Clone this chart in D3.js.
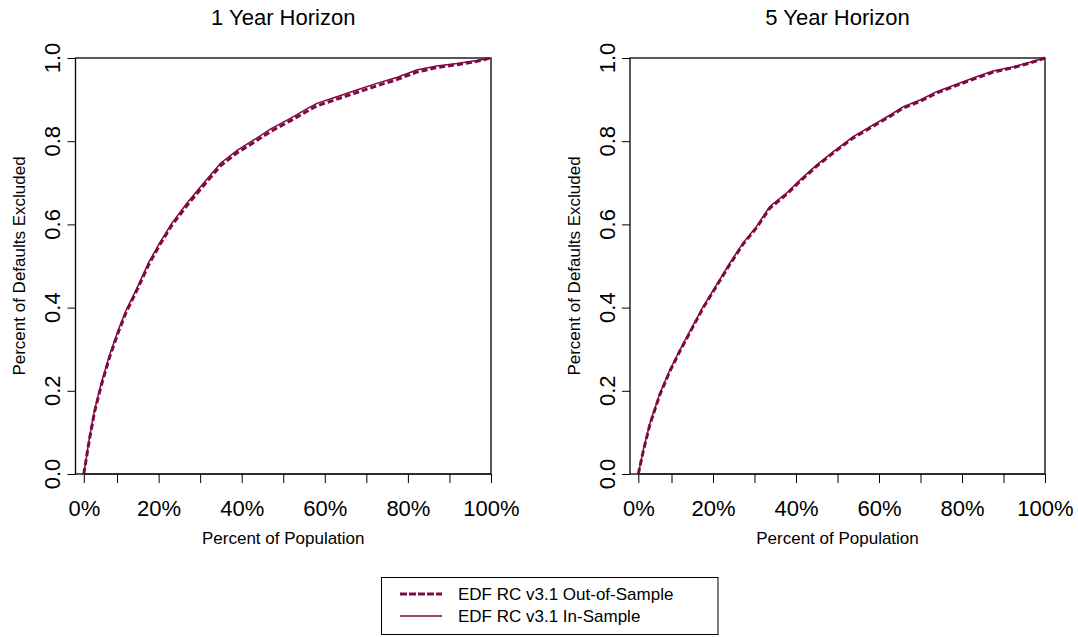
<!DOCTYPE html>
<html>
<head>
<meta charset="utf-8">
<script src="https://cdn.jsdelivr.net/npm/d3@7"></script>
<style>
  html, body { margin: 0; padding: 0; background: #fff; }
  svg { display: block; font-family: "Liberation Sans", Arial, Helvetica, sans-serif; }
</style>
</head>
<body>
<svg id="chart" width="1078" height="637"></svg>
<script>
// ---- data ----
const panelTitles = ["1 Year Horizon", "5 Year Horizon"];
const seriesNames = ["EDF RC v3.1 Out-of-Sample", "EDF RC v3.1 In-Sample"];
const xTickValues = [0.02, 0.1, 0.2, 0.3, 0.4, 0.5, 0.6, 0.7, 0.8, 0.9, 1.0];
const xTickLabels = ["0%", "", "20%", "", "40%", "", "60%", "", "80%", "", "100%"];
const yTickValues = [0, 0.2, 0.4, 0.6, 0.8, 1.0];
const yTickLabels = ["0.0", "0.2", "0.4", "0.6", "0.8", "1.0"];
const xLabel = "Percent of Population";
const yLabel = "Percent of Defaults Excluded";

// 1 year horizon
const oneYearIn = [
  [0.020,0.000],[0.034,0.090],[0.046,0.154],[0.062,0.218],[0.082,0.286],[0.103,0.346],
  [0.122,0.394],[0.147,0.445],[0.176,0.508],[0.204,0.558],[0.232,0.603],[0.268,0.651],
  [0.308,0.699],[0.349,0.747],[0.389,0.778],[0.429,0.803],[0.469,0.829],[0.517,0.855],
  [0.561,0.880],[0.581,0.891],[0.629,0.907],[0.677,0.923],[0.725,0.939],[0.773,0.953],
  [0.821,0.971],[0.869,0.981],[0.918,0.987],[0.966,0.994],[1.000,1.000]
];
const oneYearOut = [
  [0.020,0.000],[0.034,0.086],[0.046,0.150],[0.062,0.213],[0.082,0.281],[0.103,0.341],
  [0.122,0.389],[0.147,0.440],[0.176,0.503],[0.204,0.553],[0.232,0.598],[0.268,0.645],
  [0.308,0.693],[0.349,0.741],[0.389,0.772],[0.429,0.797],[0.469,0.823],[0.517,0.849],
  [0.561,0.874],[0.581,0.885],[0.629,0.901],[0.677,0.917],[0.725,0.933],[0.773,0.948],
  [0.821,0.966],[0.869,0.977],[0.918,0.984],[0.966,0.992],[1.000,1.000]
];
// 5 year horizon
const fiveYearIn = [
  [0.020,0.000],[0.032,0.058],[0.048,0.122],[0.072,0.194],[0.096,0.250],[0.120,0.298],
  [0.148,0.350],[0.176,0.402],[0.208,0.454],[0.240,0.506],[0.272,0.555],[0.304,0.594],
  [0.337,0.643],[0.377,0.675],[0.410,0.707],[0.450,0.743],[0.490,0.775],[0.538,0.811],
  [0.586,0.839],[0.627,0.863],[0.659,0.883],[0.699,0.899],[0.739,0.919],[0.787,0.937],
  [0.835,0.955],[0.875,0.969],[0.924,0.979],[0.964,0.990],[1.000,1.000]
];
const fiveYearOut = [
  [0.020,0.000],[0.032,0.055],[0.048,0.119],[0.072,0.191],[0.096,0.247],[0.120,0.295],
  [0.148,0.347],[0.176,0.399],[0.208,0.451],[0.240,0.503],[0.272,0.552],[0.304,0.591],
  [0.337,0.639],[0.377,0.672],[0.410,0.704],[0.450,0.740],[0.490,0.772],[0.538,0.808],
  [0.586,0.836],[0.627,0.860],[0.659,0.880],[0.699,0.896],[0.739,0.916],[0.787,0.934],
  [0.835,0.952],[0.875,0.966],[0.924,0.977],[0.964,0.988],[1.000,1.000]
];
const panelData = [[oneYearOut, oneYearIn], [fiveYearOut, fiveYearIn]];

// ---- layout / style ----
const color = "#7e0a43";
const panels = [{left: 75.5, right: 491}, {left: 630, right: 1045}];
const plotTop = 58, plotBottom = 474;
const svg = d3.select("#chart");

panels.forEach((p, i) => {
  const x = d3.scaleLinear().domain([0, 1]).range([p.left, p.right]);
  const y = d3.scaleLinear().domain([0, 1]).range([plotBottom, plotTop]);
  const g = svg.append("g");

  // x axis
  const xa = g.append("g").attr("transform", `translate(0,${plotBottom})`)
    .call(d3.axisBottom(x).tickValues(xTickValues)
      .tickFormat((d, k) => xTickLabels[k]).tickSize(9).tickSizeOuter(0));
  xa.attr("font-family", null);
  xa.select(".domain").remove();
  xa.selectAll(".tick line").attr("stroke", "#000");
  xa.selectAll(".tick text").attr("font-size", 22).attr("fill", "#000")
    .attr("y", 42).attr("dy", null);
  g.append("line").attr("x1", x(xTickValues[0])).attr("x2", x(1))
    .attr("y1", plotBottom).attr("y2", plotBottom).attr("stroke", "#000");

  // y axis
  const ya = g.append("g").attr("transform", `translate(${p.left},0)`)
    .call(d3.axisLeft(y).tickValues(yTickValues).tickFormat("").tickSize(8).tickSizeOuter(0));
  ya.select(".domain").remove();
  ya.selectAll(".tick line").attr("stroke", "#000");
  yTickValues.forEach((v, k) => {
    g.append("text")
      .attr("transform", `translate(${p.left - 15.5},${y(v)}) rotate(-90)`)
      .attr("text-anchor", "middle").attr("font-size", 22).attr("fill", "#000")
      .text(yTickLabels[k]);
  });

  // box
  g.append("rect").attr("x", p.left).attr("y", plotTop)
    .attr("width", p.right - p.left).attr("height", plotBottom - plotTop)
    .attr("fill", "none").attr("stroke", "#000").attr("stroke-width", 1.3);

  // curves
  const line = d3.line().x(d => x(d[0])).y(d => y(d[1]));
  const [outS, inS] = panelData[i];
  g.append("path").datum(outS).attr("d", line).attr("fill", "none")
    .attr("stroke", color).attr("stroke-width", 3).attr("stroke-dasharray", "6,3");
  g.append("path").datum(inS).attr("d", line).attr("fill", "none")
    .attr("stroke", color).attr("stroke-width", 1.5);

  // titles and labels
  const cx = (p.left + p.right) / 2;
  g.append("text").attr("x", cx).attr("y", 25).attr("text-anchor", "middle")
    .attr("font-size", 22).attr("fill", "#000").text(panelTitles[i]);
  g.append("text").attr("x", cx).attr("y", 544).attr("text-anchor", "middle")
    .attr("font-size", 17).attr("fill", "#000").text(xLabel);
  g.append("text").attr("transform", `translate(${p.left - 50.5},${(plotTop + plotBottom) / 2}) rotate(-90)`)
    .attr("text-anchor", "middle").attr("font-size", 17).attr("fill", "#000").text(yLabel);
});

// legend
const lg = svg.append("g");
lg.append("rect").attr("x", 381.5).attr("y", 577.5).attr("width", 336.5).attr("height", 57)
  .attr("fill", "#fff").attr("stroke", "#000").attr("stroke-width", 1);
const legendStyles = [{w: 3, dash: "7,2"}, {w: 1.5, dash: null}];
seriesNames.forEach((name, k) => {
  const ly = 594 + k * 22;
  lg.append("line").attr("x1", 400).attr("x2", 442).attr("y1", ly).attr("y2", ly)
    .attr("stroke", color).attr("stroke-width", legendStyles[k].w)
    .attr("stroke-dasharray", legendStyles[k].dash);
  lg.append("text").attr("x", 458).attr("y", ly + 6).attr("font-size", 17)
    .attr("fill", "#000").text(name);
});
</script>
</body>
</html>
